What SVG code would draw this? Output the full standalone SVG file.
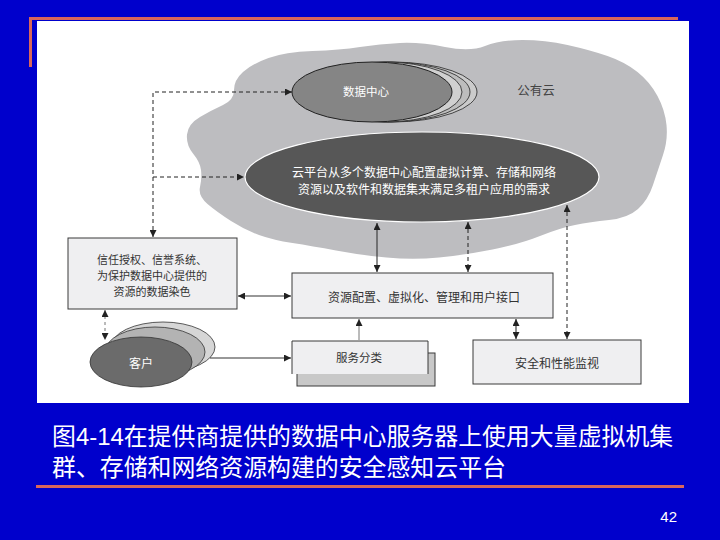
<svg xmlns="http://www.w3.org/2000/svg" width="720" height="540" viewBox="0 0 720 540">
<defs>
<marker id="ah" viewBox="0 0 10 10" refX="10" refY="5" markerWidth="7" markerHeight="7" markerUnits="userSpaceOnUse" orient="auto-start-reverse">
<path d="M0,0 L10,5 L0,10 z" fill="#222"/>
</marker>
<style>
.cap{font-family:"Liberation Sans","Noto Sans CJK SC",sans-serif;fill:#fff;font-size:23.9px}
.lbl{font-family:"Noto Sans CJK SC","Noto Sans",sans-serif;fill:#333;font-size:12px;text-anchor:middle}
.wl{font-family:"Noto Sans CJK SC","Noto Sans",sans-serif;fill:#fff;font-size:12px;text-anchor:middle}
.box{fill:#efeff1;stroke:#3a3a3a;stroke-width:1}
.sol{fill:none;stroke:#333;stroke-width:1.1}
.dash{fill:none;stroke:#222;stroke-width:1;stroke-dasharray:4 3}
</style>
</defs>
<rect x="0" y="0" width="720" height="540" fill="#0000cc"/>
<rect x="37" y="21" width="652" height="382" fill="#ffffff"/>
<rect x="29" y="17" width="649" height="3" fill="#d8665c"/>
<rect x="29" y="17" width="3" height="50" fill="#d8665c"/>
<rect x="36" y="485" width="648" height="3" fill="#d8665c"/>

<g id="cloud">
<path d="M 259,235 Q 245,230 231,221 Q 217,212 207.5,204 Q 198,196 200,187 Q 202,178 201,170 Q 200,162 193,153.5 Q 186,145 187,134.5 Q 188,124 200,117 Q 212,110 223,105 Q 234,100 234,90 Q 234,80 243,72 Q 252,64 268.5,58 Q 285,52 312.5,51 Q 340,50 360,47 Q 380,44 400,43 Q 420,42 445,47 Q 470,52 485,46 Q 500,40 522.5,40 Q 545,40 567.5,45 Q 590,50 607.5,56 Q 625,62 637.5,72 Q 650,82 657.5,96 Q 665,110 666.5,125 Q 668,140 663,155 Q 658,170 653,185 Q 648,200 638,209 Q 628,218 609,220 Q 590,222 575,225 Q 560,228 540,236 Q 520,244 492.5,249.5 Q 465,255 439,257.5 Q 413,260 386.5,257.5 Q 360,255 336,250.5 Q 312,246 292.5,243 Q 273,240 259,235 Z" fill="#bdbdc0"/>
<text x="536" y="94.5" class="lbl" style="fill:#444;font-size:12.5px">公有云</text>
</g>

<g id="datacenter">
<ellipse cx="392" cy="92" rx="85" ry="30" fill="#cbcbcb" stroke="#222" stroke-width="0.8"/>
<ellipse cx="388" cy="92" rx="82" ry="30" fill="#bdbdbd" stroke="#222" stroke-width="0.8"/>
<ellipse cx="384" cy="92" rx="78" ry="30" fill="#d0d0d0" stroke="#222" stroke-width="0.8"/>
<ellipse cx="372" cy="92" rx="80" ry="30" fill="#858585" stroke="#222" stroke-width="1"/>
<text x="366" y="96" class="wl" style="font-size:11.5px">数据中心</text>
</g>

<g id="platform">
<ellipse cx="422" cy="177" rx="177" ry="45" fill="#575757" stroke="#ffffff" stroke-width="1.2"/>
<text x="424" y="176.5" class="wl">云平台从多个数据中心配置虚拟计算、存储和网络</text>
<text x="424" y="193.5" class="wl">资源以及软件和数据集来满足多租户应用的需求</text>
</g>

<g id="trust">
<rect x="68" y="238" width="169" height="71" class="box"/>
<text x="152" y="264" class="lbl" style="font-size:11px">信任授权、信誉系统、</text>
<text x="152" y="280" class="lbl" style="font-size:11px">为保护数据中心提供的</text>
<text x="152" y="296" class="lbl" style="font-size:11px">资源的数据染色</text>
</g>

<g id="resource">
<rect x="292" y="273" width="261" height="45" class="box"/>
<text x="424" y="301.5" class="lbl">资源配置、虚拟化、管理和用户接口</text>
</g>

<g id="service">
<rect x="297" y="353" width="138" height="33" fill="#c8c8c8" stroke="#3a3a3a" stroke-width="1"/>
<rect x="292" y="341" width="136" height="33" fill="#efeff1"/>
<path d="M292,374 V341 H428 V374" fill="none" stroke="#3a3a3a" stroke-width="1"/>
<text x="359" y="361.5" class="lbl" style="font-size:11.5px">服务分类</text>
</g>

<g id="security">
<rect x="473" y="340" width="168" height="44" class="box"/>
<text x="557" y="367.5" class="lbl">安全和性能监视</text>
</g>

<g id="customer">
<ellipse cx="163" cy="347" rx="52" ry="25" fill="#d6d6d6" stroke="#333" stroke-width="0.8"/>
<ellipse cx="155" cy="352" rx="50" ry="25" fill="#b3b3b3" stroke="#333" stroke-width="0.8"/>
<ellipse cx="141" cy="362" rx="51" ry="25" fill="#6b6b6b" stroke="#333" stroke-width="0.8"/>
<text x="141" y="368" class="wl">客户</text>
</g>

<g id="connectors">
<path d="M292,92 H153 V237" class="dash" marker-start="url(#ah)" marker-end="url(#ah)"/>
<path d="M153,177 H244" class="dash" marker-end="url(#ah)"/>
<path d="M238,296 H291" class="sol" marker-start="url(#ah)" marker-end="url(#ah)"/>
<path d="M377,223 V272" class="sol" marker-start="url(#ah)" marker-end="url(#ah)"/>
<path d="M468,222 V272" class="dash" marker-start="url(#ah)" marker-end="url(#ah)"/>
<path d="M567,205 V339" class="dash" marker-start="url(#ah)" marker-end="url(#ah)"/>
<path d="M516,319 V339" class="sol" marker-start="url(#ah)" marker-end="url(#ah)"/>
<path d="M359,340 V319" fill="none" stroke="#777" stroke-width="1" marker-end="url(#ah)"/>
<path d="M105,310 V340" fill="none" stroke="#777" stroke-width="1" stroke-dasharray="3 3" marker-start="url(#ah)" marker-end="url(#ah)"/>
<path d="M210,358 H291" class="sol" marker-end="url(#ah)"/>
</g>

<g id="caption">
<text x="52" y="445" class="cap">图4-14在提供商提供的数据中心服务器上使用大量虚拟机集</text>
<text x="52" y="476" class="cap">群、存储和网络资源构建的安全感知云平台</text>
<text x="677" y="522" text-anchor="end" style="font-family:'Liberation Sans',sans-serif;font-size:15px;fill:#fff">42</text>
</g>
</svg>
